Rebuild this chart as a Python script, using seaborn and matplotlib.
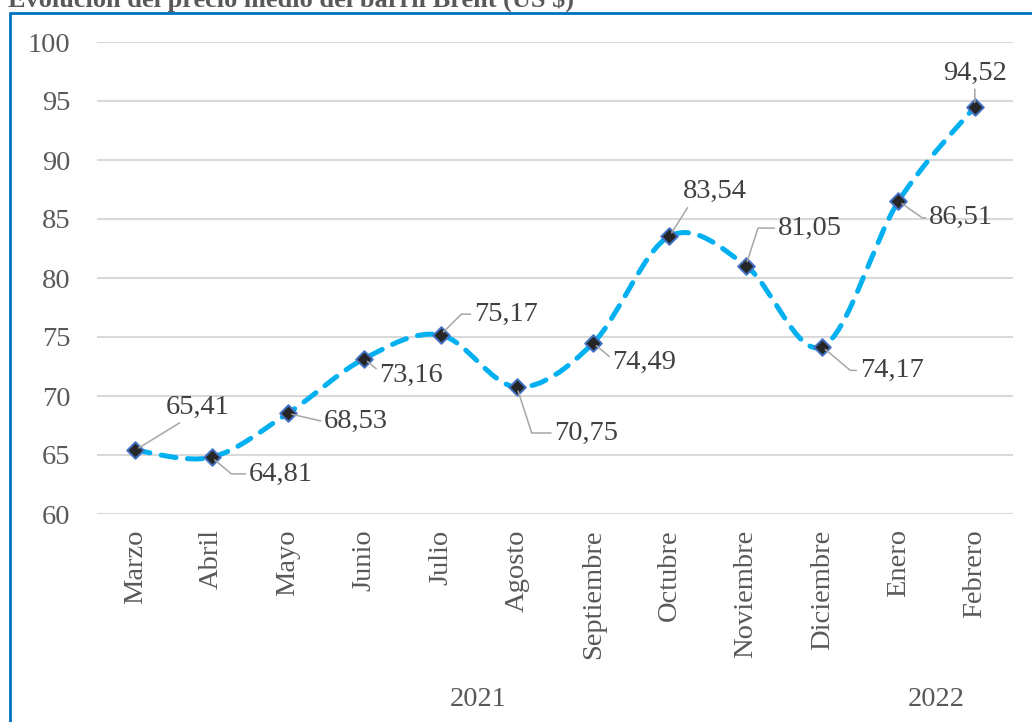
import matplotlib
matplotlib.use("Agg")
import matplotlib.pyplot as plt
import seaborn as sns
import pandas as pd
from matplotlib.path import Path
from matplotlib.patches import PathPatch
from matplotlib.lines import Line2D
from matplotlib import transforms

# data
months = ["Marzo", "Abril", "Mayo", "Junio", "Julio", "Agosto", "Septiembre",
          "Octubre", "Noviembre", "Diciembre", "Enero", "Febrero"]
prices = [65.41, 64.81, 68.53, 73.16, 75.17, 70.75, 74.49, 83.54, 81.05, 74.17, 86.51, 94.52]
years = ["2021", "2022"]
year_first = [0, 10]
year_last = [9, 11]
price_labels = [f"{v:.2f}".replace(".", ",") for v in prices]

# label offsets (points) and leader style for each data label
label_pos = [
    (45, 31, (0.3, 0.0), "arc3"),
    (50, -12, (0.0, 0.5), "angle,angleA=0,angleB=-40,rad=0"),
    (49, -6, (0.0, 0.5), "arc3"),
    (34, -12, (0.0, 0.5), "angle,angleA=0,angleB=-40,rad=0"),
    (47, 15, (0.0, 0.5), "angle,angleA=0,angleB=45,rad=0"),
    (50, -33, (0.0, 0.5), "angle,angleA=0,angleB=-72,rad=0"),
    (37, -14, (0.0, 0.5), "angle,angleA=0,angleB=-40,rad=0"),
    (33, 32, (0.1, 0.0), "arc3"),
    (46, 27, (0.0, 0.5), "angle,angleA=0,angleB=72,rad=0"),
    (50, -17, (0.0, 0.5), "angle,angleA=0,angleB=-40,rad=0"),
    (45, -12, (0.0, 0.5), "angle,angleA=0,angleB=-35,rad=0"),
    (0, 24, (0.5, 0.0), "arc3"),
]

sns.set_theme(style="white")
plt.rcParams['font.family'] = ['Liberation Serif', 'DejaVu Serif']

W, H = 1032, 722
fig = plt.figure(figsize=(W / 100, H / 100), dpi=100)
ax = fig.add_axes([97 / W, 1 - 514 / H, 916 / W, 472 / H])

df = pd.DataFrame({"mes": months, "x": range(len(months)), "precio": prices})

# smoothed line like Excel (Catmull-Rom curve drawn as bezier path)
xs = df["x"].to_numpy(float)
ys = df["precio"].to_numpy(float)
n = len(xs)
verts = [(xs[0], ys[0])]
codes = [Path.MOVETO]
for i in range(n - 1):
    a = max(i - 1, 0)
    d = min(i + 2, n - 1)
    c1 = (xs[i] + (xs[i + 1] - xs[a]) / 6, ys[i] + (ys[i + 1] - ys[a]) / 6)
    c2 = (xs[i + 1] - (xs[d] - xs[i]) / 6, ys[i + 1] - (ys[d] - ys[i]) / 6)
    verts += [c1, c2, (xs[i + 1], ys[i + 1])]
    codes += [Path.CURVE4] * 3
curve = PathPatch(Path(verts, codes), fill=False, edgecolor="#00B0F0", lw=3.6,
                  linestyle=(0, (3, 2.3)), capstyle="round", zorder=3)
ax.add_patch(curve)

sns.scatterplot(data=df, x="x", y="precio", marker="D", s=72, color="#262626",
                edgecolor="#4472C4", linewidth=1.4, zorder=5, ax=ax)

for i, (dx, dy, rp, cs) in enumerate(label_pos):
    ax.annotate(price_labels[i], xy=(xs[i], ys[i]), xytext=(dx, dy),
                textcoords="offset points", ha="center", va="center",
                fontsize=20.5, color="#404040", zorder=6,
                arrowprops=dict(arrowstyle="-", color="#A6A6A6", lw=1.1,
                                relpos=rp, connectionstyle=cs,
                                shrinkA=0, shrinkB=3))

ax.set_xlim(-0.5, n - 0.5)
ax.set_ylim(60, 100)
ax.set_yticks(range(60, 101, 5))
ax.set_xticks(range(n))
ax.set_xticklabels(months, rotation=90)
ax.set_xlabel("")
ax.set_ylabel("")
ax.tick_params(axis="both", length=0, labelsize=20.5, labelcolor="#595959")
ax.tick_params(axis="y", pad=19)
ax.tick_params(axis="x", pad=11)
ax.grid(axis="y", color="#D9D9D9", lw=1.5)
ax.grid(axis="x", visible=False)
ax.set_axisbelow(True)
for s in ax.spines.values():
    s.set_visible(False)

# year level of the category axis
trans = transforms.blended_transform_factory(ax.transData, fig.transFigure)
for yr, a, b in zip(years, year_first, year_last):
    ax.text((a + b) / 2, 1 - 700 / H, yr, transform=trans, ha="center",
            va="center", fontsize=20.5, color="#595959")

# chart frame and cut-off title
fig.add_artist(Line2D([10 / W, 10 / W], [0, 1 - 13 / H], transform=fig.transFigure,
                      color="#0070C0", lw=2))
fig.add_artist(Line2D([10 / W, 1], [1 - 13 / H, 1 - 13 / H], transform=fig.transFigure,
                      color="#0070C0", lw=2))
fig.text(8 / W, 1 - 7 / H, "Evolución del precio medio del barril Brent (US $)",
         fontsize=19, fontweight="bold", color="#595959", va="baseline")

fig.savefig("out.png", dpi=100)
